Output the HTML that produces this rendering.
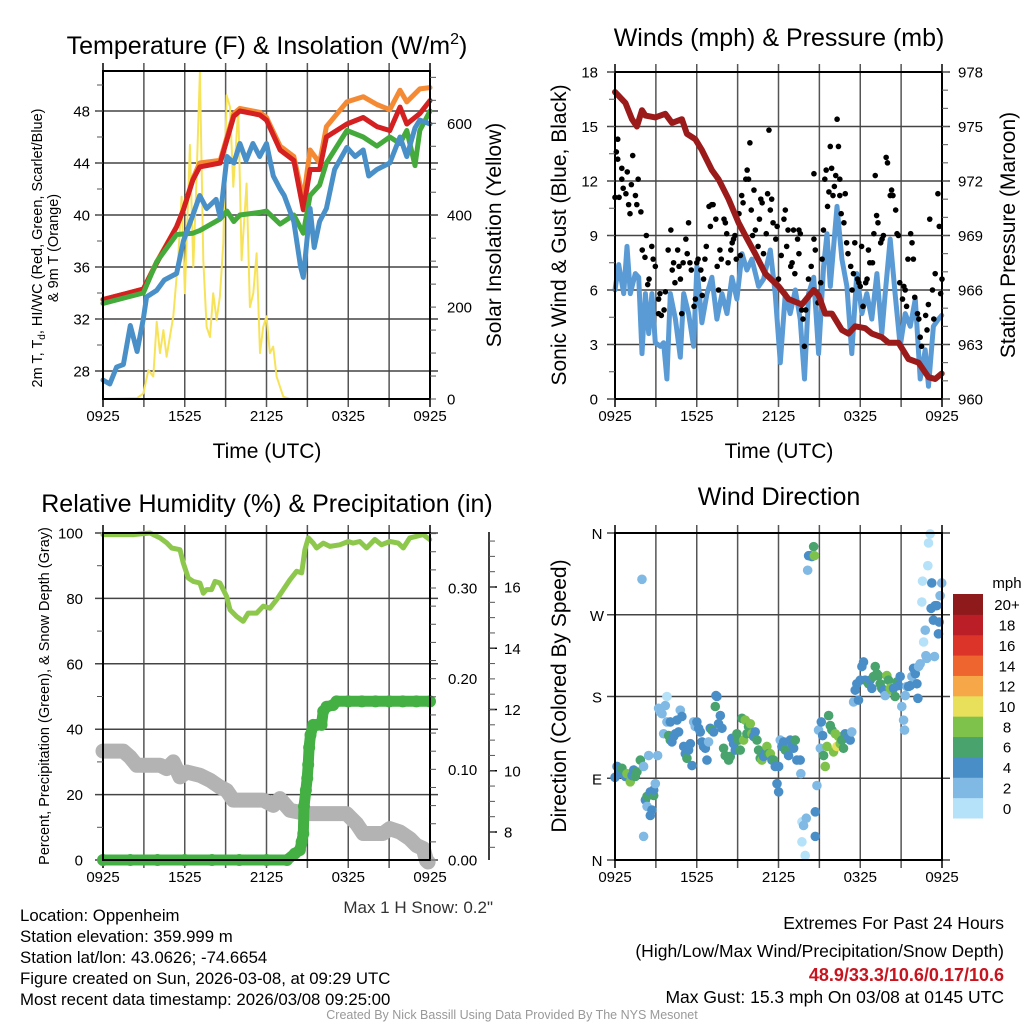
<!DOCTYPE html>
<html><head><meta charset="utf-8"><style>
html,body{margin:0;padding:0;background:#fff;}
svg{display:block;font-family:"Liberation Sans",Arial,sans-serif;}
</style></head><body>
<svg id="fig" width="1024" height="1024" viewBox="0 0 1024 1024" xmlns="http://www.w3.org/2000/svg">
<rect width="1024" height="1024" fill="#fff"/>
<g id="layer-grid"></g>
<g id="layer-data"></g>
<g id="layer-axes"></g>
<g font-size="25" text-anchor="middle" fill="#000">
<text x="267" y="54">Temperature (F) &amp; Insolation (W/m<tspan font-size="16" dy="-10">2</tspan><tspan dy="10">)</tspan></text>
<text x="779" y="46">Winds (mph) &amp; Pressure (mb)</text>
<text x="267" y="512">Relative Humidity (%) &amp; Precipitation (in)</text>
<text x="779" y="505">Wind Direction</text>
</g>
<g font-size="21" text-anchor="middle">
<text x="267" y="458">Time (UTC)</text>
<text x="779" y="458">Time (UTC)</text>
<text transform="translate(501,235) rotate(-90)">Solar Insolation (Yellow)</text>
<text transform="translate(566,235) rotate(-90)">Sonic Wind &amp; Gust (Blue, Black)</text>
<text transform="translate(1015,235) rotate(-90)">Station Pressure (Maroon)</text>
<text transform="translate(566,696) rotate(-90)">Direction (Colored By Speed)</text>
</g>
<g font-size="14.5" text-anchor="middle">
<text transform="translate(42,248) rotate(-90)">2m T, T<tspan font-size="10" dy="3">d</tspan><tspan dy="-3">, HI/WC (Red, Green, Scarlet/Blue)</tspan></text>
<text transform="translate(58,248) rotate(-90)">&amp; 9m T (Orange)</text>
<text transform="translate(49,696) rotate(-90)" font-size="14.5">Percent, Precipitation (Green), &amp; Snow Depth (Gray)</text>
</g>
<g font-size="16.8" fill="#000">
<text x="20" y="921">Location: Oppenheim</text>
<text x="20" y="942">Station elevation: 359.999 m</text>
<text x="20" y="963">Station lat/lon: 43.0626; -74.6654</text>
<text x="20" y="984">Figure created on Sun, 2026-03-08, at 09:29 UTC</text>
<text x="20" y="1005">Most recent data timestamp: 2026/03/08 09:25:00</text>
<text x="493" y="913" text-anchor="end" fill="#333" font-size="17">Max 1 H Snow: 0.2"</text>
<g text-anchor="end" font-size="17.5">
<text x="1004" y="929">Extremes For Past 24 Hours</text>
<text x="1004" y="957">(High/Low/Max Wind/Precipitation/Snow Depth)</text>
<text x="1004" y="981" fill="#c8141e" font-weight="bold" font-size="18">48.9/33.3/10.6/0.17/10.6</text>
<text x="1004" y="1003">Max Gust: 15.3 mph On 03/08 at 0145 UTC</text>
</g>
<text x="512" y="1019" text-anchor="middle" font-size="12.5" fill="#999">Created By Nick Bassill Using Data Provided By The NYS Mesonet</text>
</g>
<g id="colorbar"></g>
</svg>
<script>
// ===== Data (hours since 0925 UTC) =====
const xTickLabels = ["0925","1525","2125","0325","0925"];
const tempTicks = [28,32,36,40,44,48];
const solarTicks = [0,200,400,600];
const windTicks = [0,3,6,9,12,15,18];
const pressTicks = [960,963,966,969,972,975,978];
const rhTicks = [0,20,40,60,80,100];
const precipTicks = [0.00,0.10,0.20,0.30];
const snowTicks = [8,10,12,14,16];
const dirTicks = ["N","E","S","W","N"];
const speedBinLabels = ["0","2","4","6","8","10","12","14","16","18","20+"];

const redHours = [0,2.96,3.94,5.4,5.9,6.6,7.1,8.6,9.1,9.6,10.05,11.5,12,13,14,14.7,15.2,15.9,16.4,17.9,19.1,20.1,21.05,21.8,22.3,23.25,24];
const redTemp = [33.5,34.3,36.3,39.1,40.4,42.7,43.7,44,45.8,47.6,48,47.7,47.3,45,44.2,40.4,43.5,43.5,46,47,47.5,46.8,46.5,48.3,47,47.8,48.8];
const orangeHours = [0,2.96,3.94,5.4,5.9,6.6,7.1,8.6,9.1,9.6,10.05,11.5,12,13,14,14.7,15.2,15.9,16.4,17.9,19.1,20.1,21.05,21.8,22.3,23.25,24];
const orangeTemp = [33.5,34.3,36.4,39.1,40.4,42.8,44,44.2,46,47.8,48.2,47.9,47.5,45.3,44.5,41.2,45,44,46.8,48.7,49.1,48.5,48.1,49.6,48.7,49.7,49.8];
const greenHours = [0,2.96,3.94,5.4,6.6,7.1,8.6,9.1,9.6,10.05,11.5,12,13,14,14.7,15.2,15.9,16.4,17.9,19.1,20.1,21.05,21.8,22.3,22.9,23.25,24];
const greenTemp = [33.2,34,36.4,38.5,38.6,38.8,39.7,40.3,39.5,40,40.2,40.3,39.3,40,38.6,41.5,42.3,44,46.5,46,45.3,46,45.5,46.5,43.8,46.5,48];
const blueHours = [0,0.5,1,1.5,2,2.5,2.96,3.2,3.94,4.5,5.4,5.9,6.6,7.1,7.6,8.3,8.6,9.1,9.6,10.05,10.5,11,11.5,12,12.5,13,13.3,14,14.5,14.7,15.2,15.5,15.9,16.4,17,17.9,18.5,19.1,19.5,20.1,21.05,21.8,22.3,22.9,23.25,24];
const blueTemp = [27.3,27,28.3,28.5,31.5,29.5,32,33.7,34.2,35,35.5,38,40,41.5,40.5,41.2,39.8,44.5,44,45.5,44.2,45.5,44.5,45.5,43,42,41.5,39.5,36,35.2,40.5,37.5,39.5,40.5,43.5,45.2,44.5,45,43,43.5,44,46,44.5,46.7,47.3,47];
const solarHours = [0,2.5,2.96,3.33,3.69,3.94,4.18,4.43,4.67,5.16,5.53,5.77,6.01,6.38,6.63,6.87,7.11,7.36,7.6,7.85,8.09,8.34,8.58,8.83,9.07,9.32,9.56,9.93,10.17,10.54,10.78,11.03,11.27,11.52,11.76,12.0,12.25,12.49,12.74,13.23,13.72,24];
const solarValues = [0,2,12,63,49,168,100,150,92,180,310,440,230,553,288,484,712,302,157,135,230,172,223,339,661,636,462,633,302,469,200,230,317,100,157,180,100,114,49,5,0,0];

const windHours = [0,0.27,0.64,0.88,1.12,1.49,1.74,1.98,2.23,2.47,2.71,2.96,3.33,3.57,3.81,4.06,4.43,4.79,5.04,5.4,5.77,6.01,6.38,6.75,7.11,7.48,7.85,8.22,8.58,8.95,9.32,9.68,10.05,10.54,10.91,11.4,11.76,12.13,12.5,12.86,13.23,13.59,13.91,14.21,14.58,14.94,15.31,15.56,15.8,16.29,16.65,17.02,17.38,17.75,18.12,18.48,18.85,19.22,19.58,19.83,20.2,20.56,20.93,21.3,21.67,22.04,22.4,22.77,23.01,23.37,23.74,23.98];
const windSpeed = [6,7.4,5.8,8.4,5.8,6.9,6.7,2.5,5.8,3.6,5.8,3.1,2.9,3.1,1.1,5.8,4.4,2.3,5.8,4.7,2.9,7.3,4.2,5.8,6.7,4.4,5.8,4.7,6.7,5.5,8,7.1,7.7,6.2,6.6,8.2,5.8,2,5.8,4.7,6,4.4,1.1,5.8,6.7,2.5,7.3,9.1,6.2,10.6,7.7,6.2,2.5,6.9,4.7,5.8,4.4,6.9,3.6,5.8,8.8,5.8,2.9,4.7,4,5.5,1.1,2.7,0.7,4,4.4,4.6];
const gustHours = [0,0.1,0.2,0.2,0.3,0.5,0.5,0.6,0.8,0.9,1,1.1,1.2,1.3,1.5,1.6,1.7,1.9,2,2.2,2.3,2.4,2.5,2.7,2.8,2.96,3.2,3.2,3.3,3.4,3.6,3.7,3.9,4.1,4.2,4.3,4.4,4.6,4.7,4.8,4.9,5,5.2,5.3,5.4,5.5,5.6,5.8,5.9,6,6.1,6.3,6.4,6.5,6.6,6.7,6.9,7,7.1,7.2,7.4,7.5,7.6,7.7,7.8,8,8.1,8.2,8.3,8.5,8.6,8.7,8.8,8.9,9.1,9.2,9.3,9.4,9.6,9.7,9.8,9.9,10,10.1,10.2,10.3,10.5,10.6,10.7,10.8,10.9,11.1,11.2,11.3,11.4,11.5,11.6,11.8,11.9,12,12.2,12.4,12.5,12.6,12.7,12.9,13,13.1,13.2,13.4,13.5,13.5,13.6,13.7,13.8,13.9,14,14.2,14.4,14.6,14.6,14.7,14.9,15.1,15.2,15.3,15.4,15.5,15.6,15.7,15.8,15.9,16,16.1,16.2,16.3,16.4,16.5,16.5,16.6,16.8,16.9,17,17.1,17.3,17.4,17.5,17.6,17.8,17.9,18,18.1,18.2,18.4,18.5,18.6,18.7,18.9,19,19.1,19.2,19.3,19.5,19.6,19.7,19.9,20,20.2,20.3,20.4,20.6,20.7,20.8,20.9,21.1,21.2,21.3,21.4,21.5,21.7,21.8,21.9,22,22.2,22.3,22.4,22.5,22.8,22.9,23,23.1,23.3,23.4,23.5,23.7,23.8,23.9,24];
const gustSpeed = [11.1,13.6,14.3,13.2,11.1,12.1,12.7,11.6,11.3,12.5,10.7,10.2,11.8,13.4,11.2,10.7,12.1,10.3,8.2,7.8,9,6.3,6.6,8.4,7.7,7.3,4.7,5.5,5.8,4.6,4.9,5.9,8.2,9.3,7.1,7.5,6.4,8.2,7.3,6.6,4.7,7.5,8.8,8,9.7,7.5,7.1,5.1,5.5,7.5,7.7,7.1,5.7,6.6,7.7,8.4,10.6,9.5,10.7,10.7,9.9,7.3,6,8.2,7.7,9.9,9.7,9.1,7.5,8.2,8.6,8.8,9,7.7,10.2,7.9,11.2,10.8,12.1,12.6,12.1,14.1,10.4,9,11.5,9.3,8.4,9.9,11,10.8,8,9.1,11.3,14.8,10.4,11,9.7,8.8,9.5,6.6,7.9,9.9,10.4,8.4,9.3,7.3,7.5,9.3,6.9,8.8,9.3,8,9.1,4.9,4.4,2.9,4.9,6.6,7.3,8.8,12.4,8.2,5.3,6.4,7.7,9.3,12.1,12.6,10.6,11.4,13.9,12.7,11.2,11.7,12.3,15.4,13.9,12.1,11.2,10.2,9.7,11.3,8.6,8,7.3,6,6.9,8.6,6.6,6.4,6.2,8.4,5.1,6.4,6.6,8.2,7.5,7.5,9.1,12.3,10.1,9.7,8.6,8.8,9,13.3,13,11.2,11.5,11.2,10.4,9.1,9,6.4,5.5,6.2,6,5.1,7.7,9.1,8.6,7.7,5.6,4.7,4.4,3.4,2.9,4.6,3.8,5.2,9.9,6,4.4,6.9,11.3,9.5,5.8,6.6];
const pressHours = [0,0.76,1.25,1.61,1.98,2.23,2.96,3.69,4.18,4.91,5.28,5.89,6.38,7.11,7.6,8.34,9.07,9.56,10.29,11.03,12.01,12.74,13.72,14.58,14.94,15.43,15.92,16.65,17.14,17.63,18.36,18.85,19.58,20.07,20.81,21.54,22.28,23.01,23.5,23.98];
const pressValues = [976.9,976.3,975.4,975,975.9,975.6,975.5,975.7,975.2,975.4,974.6,974.3,973.7,972.6,972.1,971,969.7,969,968,966.9,966.2,965.5,965.2,966,965.7,964.7,964.7,963.8,963.6,964,963.9,963.6,963.4,963.1,963.1,962.2,962,961.2,961.1,961.4];

const rhHours = [0,2.23,3.45,4.18,4.67,5.04,5.65,5.89,6.26,6.63,7.11,7.36,7.6,7.97,8.22,8.58,9.07,9.32,9.8,10.29,10.66,11.27,11.76,12.25,12.74,13.23,13.72,14.21,14.58,14.82,15.07,15.43,15.68,16.17,16.65,17.38,18,18.36,18.85,19.34,19.95,20.44,21.05,21.67,22.04,22.52,23.01,23.5,23.98];
const rhValues = [99.5,99.5,100,98.5,97,95.4,94.9,90.8,86.2,85.2,84.7,81.6,82.7,82.7,85.2,84.7,80.6,76.5,74.5,73,75.5,75.5,77.6,77,79.6,82.7,85.7,88.3,87.8,94.9,98.5,96.9,95.4,96.9,95.9,96.4,97.4,96.9,97.4,95.4,98,96.4,97.4,96.9,95.4,98.5,99,99.5,98];
const precipHours = [0,2,4,6,8,10,12,13.5,14.08,14.45,14.58,14.7,14.75,14.89,14.99,15.06,15.13,15.23,15.43,15.7,16.04,16.16,16.41,16.89,17.14,18,19,20,21,22,23,24];
const precipValues = [0,0,0,0,0,0,0,0,0.007,0.011,0.02,0.029,0.059,0.077,0.09,0.105,0.124,0.138,0.149,0.149,0.149,0.164,0.169,0.171,0.175,0.175,0.175,0.175,0.175,0.175,0.175,0.175];
const snowHours = [0,1.49,1.98,2.47,4.18,4.67,5.16,5.65,6.14,7.11,7.85,8.58,9.07,9.56,11.76,12.5,12.98,13.72,14.94,17.87,18.61,19.1,20.56,21.05,21.79,22.52,23.01,23.5,23.74,23.86];
const snowDepth = [10.64,10.64,10.45,10.18,10.18,10.07,10.29,9.8,9.96,9.85,9.69,9.47,9.36,9.04,9.04,8.87,9.09,8.71,8.6,8.6,8.27,7.95,7.95,8.11,8,7.78,7.56,7.46,7.07,7.02];

const dirHours = [0,.15,.27,.51,.76,.88,1.12,1.25,1.37,1.49,1.61,1.86,1.98,2.1,2.23,2.35,2.35,2.47,2.59,2.59,2.71,2.84,2.84,2.96,2.1,3.13,3.2,3.33,3.45,3.57,3.69,3.81,3.81,3.94,4.06,4.06,4.18,4.3,4.43,4.55,4.67,4.79,4.91,5.04,5.16,5.28,5.4,5.53,5.65,5.77,5.89,6.01,6.14,6.26,6.38,6.5,6.63,6.75,6.87,6.99,7.11,7.24,7.36,7.41,7.48,7.6,7.73,7.85,7.97,8.09,8.34,8.46,8.58,8.7,8.83,8.95,9.07,9.19,9.32,9.44,9.56,9.68,9.8,9.93,10.05,10.17,10.29,10.42,10.54,10.66,10.78,10.91,11.03,11.15,11.27,11.4,11.52,11.64,11.76,11.89,12.01,12.01,12.13,12.25,12.38,12.5,12.62,12.74,12.86,12.98,13.11,13.23,13.35,13.59,13.64,13.72,13.72,13.84,13.96,14.04,14.14,14.21,14.33,14.45,14.58,14.63,14.7,14.7,14.82,14.94,15.07,15.14,15.24,15.31,15.43,15.56,15.68,15.8,15.92,16.04,16.17,16.29,16.41,16.53,16.65,16.77,16.89,17.02,17.14,17.26,17.38,17.51,17.63,17.75,17.87,18,18.12,18.24,18.36,18.61,18.73,18.85,18.97,19.1,19.22,19.34,19.46,19.58,19.71,19.83,19.95,20.07,20.2,20.32,20.44,20.56,20.69,20.81,20.93,21.05,21.18,21.25,21.3,21.42,21.55,21.67,21.79,21.91,22.04,22.16,22.23,22.28,22.4,22.52,22.57,22.65,22.77,22.82,22.89,22.96,23.01,23.13,23.2,23.25,23.37,23.45,23.5,23.62,23.74,23.79,23.86,23.98];
const dirDegrees = [91,103,95,101,92,95,86,93,99,92,97,110,309,103,66,59,70,115,75,49,55,71,77,84,26,115,167,163,161,139,170,180,152,137,132,152,130,136,139,154,141,165,158,125,117,112,121,128,104,152,147,152,145,141,130,125,123,110,130,145,143,141,169,181,180,150,159,145,123,115,110,114,134,128,121,139,132,121,156,132,154,139,147,150,139,136,141,132,121,112,110,114,117,125,117,117,110,110,103,84,103,75,132,125,130,121,121,115,132,128,123,132,110,110,95,20,42,38,5,46,319,335,335,334,345,335,53,26,82,143,123,152,137,115,103,125,159,148,143,119,139,125,136,128,132,123,139,136,136,132,141,174,187,194,176,198,213,218,198,194,198,189,202,213,205,203,194,189,187,181,203,198,189,187,189,180,196,192,202,169,154,143,181,191,191,192,202,211,205,194,178,213,216,284,307,240,253,225,222,324,349,359,277,305,264,224,280,280,249,262,291,305];
const dirSpeed = [5,5,5,7,5,9,9,5,5,7,7,7,3,3,5,3,7,3,5,5,5,7,5,3,3,3,3,3,3,3,3,1,3,7,7,5,5,5,5,5,5,3,5,5,5,7,5,5,5,3,3,5,5,5,5,5,5,5,3,5,7,5,7,5,5,5,5,5,7,7,7,7,5,5,5,7,7,7,7,9,9,7,7,9,9,5,5,7,7,7,9,5,5,9,7,9,5,7,5,5,5,5,3,5,5,7,7,5,5,5,5,7,5,5,3,1,1,3,1,3,3,5,5,5,7,9,5,5,3,3,3,5,5,7,9,9,7,7,7,9,9,11,9,9,7,7,5,7,5,5,3,3,5,5,5,5,5,5,5,7,5,5,7,7,7,7,7,7,5,3,9,7,9,9,5,7,7,5,5,3,3,3,3,3,5,5,3,5,5,5,5,3,3,1,1,1,3,3,3,1,1,1,5,5,5,3,5,5,5,5,3,3];
const speedColors = ["#b5e2f8","#80b9e4","#4a8ec8","#48a46c","#7ec24b","#e8e05a","#f6a848","#ef6530","#dc3428","#bb1e26","#8e1a1c"];

// ===== Scales =====
const NS="http://www.w3.org/2000/svg";
const gGrid=document.getElementById('layer-grid'), gData=document.getElementById('layer-data'), gAxes=document.getElementById('layer-axes');
function mk(tag,attrs,parent){const e=document.createElementNS(NS,tag);for(const k in attrs)e.setAttribute(k,attrs[k]);parent.appendChild(e);return e;}
const panels={tl:{x0:103,x1:430,y0:71,y1:399},tr:{x0:615,x1:942,y0:72,y1:399},bl:{x0:103,x1:430,y0:533,y1:860},br:{x0:615,x1:942,y0:533,y1:860}};
function xs(p,h){return p.x0+h*(p.x1-p.x0)/24;}
function lin(d0,d1,r0,r1){return v=>r0+(v-d0)*(r1-r0)/(d1-d0);}
const P=panels;
const yTemp=lin(28,48,371,111), ySolar=lin(0,600,399,123.3);
const yWind=lin(0,18,399,72), yPress=lin(960,978,399,72);
const yRH=lin(0,100,860,533), yPrecip=lin(0,0.30,860,588), ySnow=lin(8,16,832,587);
const yDir=lin(0,360,860,533);

// ===== Frames, grids, ticks =====
function panelFrame(p,key,hLines){
  for(let i=0;i<=8;i++){const x=xs(p,i*3);
    const l=mk('line',{x1:x,y1:p.y0-8,x2:x,y2:p.y1+8,stroke:(i===0||i===8)?'#000':'#555','stroke-width':1.5},gGrid);
    
    
  }
  hLines.forEach(y=>{const l=mk('line',{x1:p.x0-8,y1:y,x2:p.x1+8,y2:y,stroke:'#444','stroke-width':1.5},gGrid);
    
    });
  const r=mk('rect',{x:p.x0,y:p.y0,width:p.x1-p.x0,height:p.y1-p.y0,fill:'none',stroke:'#000','stroke-width':2},gAxes);
  
  
  xTickLabels.forEach((t,i)=>{const tx=mk('text',{x:xs(p,i*6),y:p.y1+22,'text-anchor':'middle','font-size':15},gAxes);tx.textContent=t;
    
    });
}
function yLabels(key,ticks,scale,x,anchor,fmt){
  ticks.forEach(v=>{const t=mk('text',{x:x,y:scale(v)+5.5,'text-anchor':anchor,'font-size':15},gAxes);t.textContent=fmt?fmt(v):v;
    
    });
}
function minorTicks(x,y0,y1,step,dir){for(let y=y0;y>=y1-0.1;y-=step){const l=mk('line',{x1:x,y1:y,x2:x+dir*6,y2:y,stroke:'#555','stroke-width':1},gAxes);
  
  }}

panelFrame(P.tl,'temperature',tempTicks.map(yTemp));
yLabels('temperature-y',tempTicks,yTemp,90,'end');
yLabels('solar-y',solarTicks,ySolar,447,'start');
minorTicks(103,yTemp(30),71,26,-1);minorTicks(430,399,71,ySolar(0)-ySolar(50),1);
panelFrame(P.tr,'winds',windTicks.map(yWind));
yLabels('wind-y',windTicks,yWind,598,'end');
yLabels('pressure-y',pressTicks,yPress,958,'start');
minorTicks(942,399,72,yWind(0)-yWind(1),1);minorTicks(615,399,72,yWind(0)-yWind(1.5),-1);
panelFrame(P.bl,'humidity',rhTicks.map(yRH));
yLabels('humidity-y',rhTicks,yRH,83,'end');
yLabels('precip-y',precipTicks,yPrecip,448,'start',v=>v.toFixed(2));
minorTicks(103,yRH(10),533,yRH(0)-yRH(20),-1);minorTicks(430,860,533,yPrecip(0)-yPrecip(0.02),1);
(function(){const l=mk('line',{x1:489,y1:532,x2:489,y2:860,stroke:'#000','stroke-width':1.5},gAxes);


yLabels('snow-y',snowTicks,ySnow,504,'start');
snowTicks.forEach(v=>{const t=mk('line',{x1:489,y1:ySnow(v),x2:497,y2:ySnow(v),stroke:'#000','stroke-width':1.5},gAxes);

});
minorTicks(489,ySnow(7.5),533,ySnow(0)-ySnow(0.5),1);})();
panelFrame(P.br,'direction',[0,90,180,270,360].map(yDir));
dirTicks.forEach((t,i)=>{const tx=mk('text',{x:597,y:yDir(i*90)+6,'text-anchor':'middle','font-size':15},gAxes);tx.textContent=t;
  
  });

// ===== Series =====
function line(p,hours,vals,ys,color,w,name){
  const pts=hours.map((h,i)=>xs(p,h).toFixed(1)+','+ys(vals[i]).toFixed(1)).join(' ');
  const e=mk('polyline',{points:pts,fill:'none',stroke:color,'stroke-width':w,'stroke-linejoin':'round','stroke-linecap':'round'},gData);
  
  
}
function dots(p,hours,vals,ys,colorFn,r,name){
  hours.forEach((h,i)=>{const c=mk('circle',{cx:xs(p,h),cy:ys(vals[i]),r:r,fill:colorFn(i)},gData);
    
    });
}
line(P.tl,solarHours,solarValues,ySolar,'#f7e35a',2,'solar-insolation-line');
line(P.tl,orangeHours,orangeTemp,yTemp,'#f58a35',5,'9m-temperature-line');
line(P.tl,redHours,redTemp,yTemp,'#d42020',5,'2m-temperature-line');
line(P.tl,greenHours,greenTemp,yTemp,'#44aa3c',5,'dewpoint-line');
line(P.tl,blueHours,blueTemp,yTemp,'#4a90c8',5,'heat-index-wind-chill-line');

line(P.tr,windHours,windSpeed,yWind,'#5a9bd5',5,'sonic-wind-line');
dots(P.tr,gustHours,gustSpeed,yWind,()=>'#000',2.8,'gust-point');
line(P.tr,pressHours,pressValues,yPress,'#9b1b1b',6,'pressure-line');

line(P.bl,snowHours,snowDepth,ySnow,'#b3b3b3',15,'snow-depth-line');
line(P.bl,rhHours,rhValues,yRH,'#8dc84d',5,'relative-humidity-line');
line(P.bl,precipHours,precipValues,yPrecip,'#44b044',11,'precipitation-line');
dots(P.bl,precipHours,precipValues,yPrecip,()=>'#44b044',6,'precipitation-point');

dots(P.br,dirHours,dirDegrees,yDir,i=>speedColors[Math.min(10,Math.floor(dirSpeed[i]/2))],4.8,'wind-direction-point');

// ===== Colorbar =====
const cb=document.getElementById('colorbar');
const mt=mk('text',{x:1007,y:588,'text-anchor':'middle','font-size':15},cb);mt.textContent='mph';


const bh=(818-594)/speedColors.length;
speedColors.forEach((c,i)=>{const y=818-(i+1)*bh;
  const r=mk('rect',{x:953,y:y,width:30,height:bh+0.5,fill:c},cb);
  
  
  const t=mk('text',{x:1007,y:y+bh/2+6,'text-anchor':'middle','font-size':15},cb);t.textContent=speedBinLabels[i];
  
  });
</script>
</body></html>
